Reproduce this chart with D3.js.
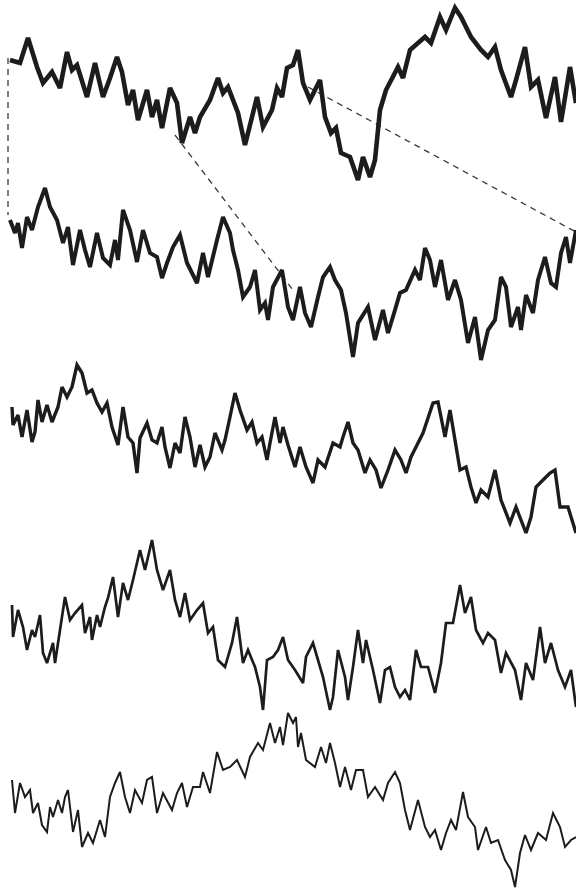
<!DOCTYPE html>
<html>
<head>
<meta charset="utf-8">
<script src="https://cdn.jsdelivr.net/npm/d3@7"></script>
<style>
  html, body { margin: 0; padding: 0; background: #fff; }
  svg { display: block; }
</style>
</head>
<body>
<div id="chart"></div>
<script>
// [time, level] readings for each of the five traces (level = height above panel floor)
const trace1 = [[10,130],[20,127],[28,152],[37,123],[43,107],[52,118],[60,102],[67,138],[72,120],[77,125],[87,93],[95,127],[103,93],[110,112],[117,133],[122,118],[128,85],[133,100],[138,70],[147,100],[152,73],[157,90],[162,62],[170,102],[177,87],[182,47],[190,73],[195,57],[200,73],[210,90],[218,112],[223,97],[228,103],[238,77],[245,45],[257,93],[263,63],[272,80],[277,102],[282,93],[287,122],[293,125],[298,140],[303,107],[310,90],[320,110],[325,73],[331,57],[336,62],[341,37],[350,33],[358,10],[363,33],[370,13],[375,30],[380,80],[386,100],[398,123],[403,112],[410,140],[418,147],[425,153],[431,147],[440,173],[446,160],[455,182],[461,173],[471,153],[481,140],[488,133],[495,143],[501,120],[511,93],[516,110],[525,143],[531,103],[538,110],[546,72],[555,113],[561,68],[570,123],[576,87]];

const trace2 = [[10,150],[15,137],[18,147],[22,122],[27,153],[32,140],[38,163],[45,182],[50,163],[57,150],[63,127],[68,143],[73,105],[80,140],[85,120],[90,103],[97,137],[103,112],[110,105],[115,130],[118,110],[123,160],[130,140],[137,108],[143,140],[150,117],[157,113],[162,92],[167,107],[173,123],[180,135],[187,107],[197,87],[203,117],[208,93],[217,130],[223,153],[230,137],[233,120],[238,100],[243,73],[250,83],[255,100],[260,60],[265,67],[268,50],[273,83],[282,100],[288,63],[293,50],[300,83],[305,57],[311,43],[318,73],[323,93],[330,103],[335,90],[341,80],[346,57],[353,13],[358,47],[368,63],[375,30],[383,60],[388,37],[395,60],[400,77],[406,80],[415,100],[420,90],[425,122],[430,110],[435,83],[441,110],[448,70],[455,90],[461,70],[468,27],[475,53],[481,10],[488,40],[495,50],[501,93],[506,83],[511,43],[518,63],[521,40],[526,75],[533,57],[538,90],[545,113],[551,87],[556,83],[561,117],[566,133],[570,107],[576,140]];

const trace3 = [[12,133],[13,115],[18,125],[22,103],[27,130],[32,98],[35,108],[38,140],[42,118],[47,135],[52,118],[58,133],[62,153],[67,143],[72,153],[77,175],[82,167],[87,147],[92,150],[97,137],[102,128],[107,137],[112,113],[118,95],[123,133],[128,103],[133,97],[137,67],[140,102],[147,117],[152,100],[157,97],[162,113],[165,93],[170,72],[175,97],[180,87],[185,123],[190,103],[195,73],[200,95],[205,73],[210,83],[215,107],[222,90],[225,100],[230,123],[235,147],[240,130],[247,110],[252,118],[257,97],[262,103],[267,80],[270,97],[275,123],[280,97],[283,113],[288,95],[295,73],[300,93],[306,73],[313,57],[318,80],[325,73],[333,97],[340,93],[343,103],[348,118],[353,97],[358,90],[365,67],[370,80],[376,70],[381,52],[388,70],[395,90],[401,80],[406,67],[411,83],[416,93],[423,107],[428,122],[433,137],[438,138],[445,103],[450,130],[455,100],[460,70],[466,73],[471,53],[476,37],[481,50],[488,43],[495,70],[501,40],[510,17],[516,33],[521,20],[526,7],[531,23],[536,53],[543,60],[550,67],[555,70],[560,33],[568,33],[576,7]];

const trace4 = [[12,110],[13,78],[18,105],[23,88],[27,65],[32,85],[35,78],[40,100],[43,62],[47,52],[53,72],[55,52],[60,85],[65,118],[70,95],[75,102],[82,110],[85,82],[90,98],[92,75],[97,100],[100,88],[105,108],[108,117],[113,138],[118,98],[123,132],[128,115],[133,135],[140,165],[145,145],[152,175],[157,145],[163,125],[170,145],[175,115],[180,98],[185,122],[190,95],[197,105],[203,112],[208,82],[213,88],[218,55],[225,48],[232,72],[237,98],[243,52],[248,65],[255,48],[260,28],[263,5],[267,55],[273,58],[278,65],[283,78],[288,55],[295,45],[303,32],[306,58],[313,72],[318,55],[323,38],[330,5],[333,18],[338,65],[345,38],[348,15],[353,48],[358,85],[363,52],[366,75],[373,45],[380,12],[385,45],[390,48],[395,28],[400,18],[405,25],[410,15],[416,65],[421,48],[428,48],[435,22],[441,52],[446,92],[453,92],[460,130],[465,102],[471,118],[476,85],[483,72],[488,82],[495,75],[501,42],[506,62],[515,45],[521,15],[526,52],[533,35],[540,88],[545,52],[551,72],[558,45],[565,28],[571,45],[576,8]];

const trace5 = [[12,110],[15,77],[20,107],[25,93],[30,100],[33,77],[38,87],[42,65],[47,58],[50,83],[53,73],[58,90],[62,77],[65,93],[68,100],[73,58],[78,80],[82,43],[88,57],[93,47],[100,70],[105,53],[110,93],[115,107],[120,118],[125,93],[130,77],[135,100],[142,87],[147,110],[152,113],[157,77],[163,97],[172,80],[177,97],[182,107],[187,83],[193,103],[200,103],[203,118],[210,97],[217,138],[223,120],[230,123],[237,130],[245,113],[250,133],[258,147],[263,140],[270,167],[275,147],[280,163],[283,145],[288,177],[293,167],[296,173],[298,143],[301,157],[306,130],[315,123],[321,143],[326,127],[330,147],[335,127],[340,103],[345,123],[351,100],[356,120],[363,120],[368,93],[375,103],[383,90],[388,107],[395,118],[400,107],[405,80],[410,60],[418,90],[425,63],[430,53],[435,60],[441,40],[446,57],[451,70],[456,60],[463,98],[468,73],[475,63],[478,40],[486,63],[491,47],[498,50],[505,30],[511,20],[515,3],[520,37],[525,55],[531,40],[538,57],[546,50],[553,77],[560,63],[565,43],[571,50],[576,53]];

// dashed guide links: [trace index, time, level] -> [trace index, time, level]
const guides = [
  [[0, 8, 132], [1, 8, 155]],
  [[0, 175, 55], [1, 293, 80]],
  [[0, 308, 103], [1, 576, 138]]
];

const traces = [trace1, trace2, trace3, trace4, trace5];
const floors = [190, 370, 540, 715, 890];   // panel floors (px)
const widths = [4.6, 4, 3.4, 2.7, 2];

const width = 576, height = 891;

const svg = d3.select("#chart")
  .append("svg")
  .attr("width", width)
  .attr("height", height);

const x = d3.scaleLinear().domain([0, 576]).range([0, width]);
const yScales = floors.map(f => d3.scaleLinear().domain([0, 180]).range([f, f - 180]));

// guide lines first
guides.forEach(([a, b]) => {
  svg.append("line")
    .attr("x1", x(a[1]))
    .attr("y1", yScales[a[0]](a[2]))
    .attr("x2", x(b[1]))
    .attr("y2", yScales[b[0]](b[2]))
    .attr("stroke", "#3a3a3a")
    .attr("stroke-width", 1.3)
    .attr("stroke-dasharray", "6,5");
});

traces.forEach((data, i) => {
  const line = d3.line()
    .x(d => x(d[0]))
    .y(d => yScales[i](d[1]));
  svg.append("path")
    .datum(data)
    .attr("d", line)
    .attr("fill", "none")
    .attr("stroke", "#1c1c1c")
    .attr("stroke-width", widths[i])
    .attr("stroke-linejoin", "miter")
    .attr("stroke-miterlimit", 3);
});
</script>
</body>
</html>
